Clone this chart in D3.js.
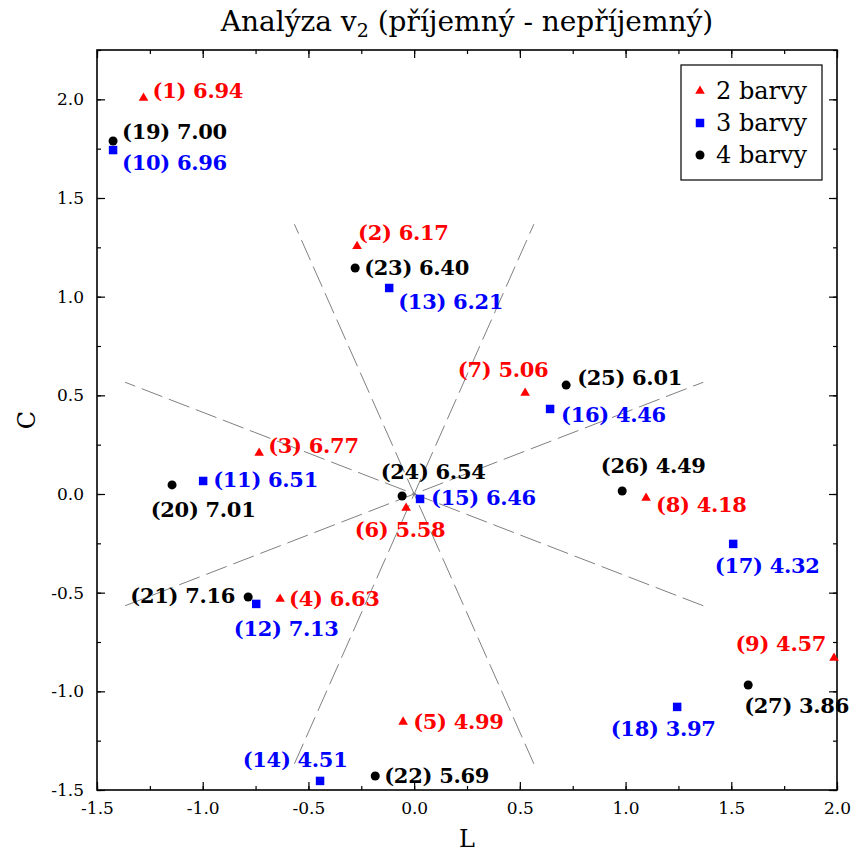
<!DOCTYPE html>
<html>
<head>
<meta charset="utf-8">
<script src="https://cdn.jsdelivr.net/npm/d3@7/dist/d3.min.js"></script>
<style>
  html, body { margin: 0; padding: 0; background: #fff; }
  svg { display: block; }
  .serif { font-family: "DejaVu Serif", serif; }
</style>
</head>
<body>
<svg id="chart" width="852" height="855"></svg>
<script>
// Series: (L, C) coordinates, item number and score
const seriesNames = ["2 barvy", "3 barvy", "4 barvy"];

const ids2 = [1, 2, 3, 4, 5, 6, 7, 8, 9];
const L2 = [-1.28, -0.27, -0.733, -0.634, -0.052, -0.038, 0.525, 1.097, 1.986];
const C2 = [2.007, 1.255, 0.208, -0.532, -1.155, -0.071, 0.512, -0.020, -0.831];
const score2 = ["6.94", "6.17", "6.77", "6.63", "4.99", "5.58", "5.06", "4.18", "4.57"];

const ids3 = [10, 11, 12, 13, 14, 15, 16, 17, 18];
const L3 = [-1.424, -0.998, -0.747, -0.118, -0.445, 0.028, 0.643, 1.509, 1.244];
const C3 = [1.743, 0.066, -0.557, 1.044, -1.454, -0.025, 0.431, -0.253, -1.079];
const score3 = ["6.96", "6.51", "7.13", "6.21", "4.51", "6.46", "4.46", "4.32", "3.97"];

const ids4 = [19, 20, 21, 22, 23, 24, 25, 26, 27];
const L4 = [-1.424, -1.145, -0.785, -0.184, -0.279, -0.057, 0.719, 0.984, 1.58];
const C4 = [1.789, 0.046, -0.522, -1.429, 1.145, -0.010, 0.552, 0.015, -0.968];
const score4 = ["7.00", "7.01", "7.16", "5.69", "6.40", "6.54", "6.01", "4.49", "3.86"];

// Guide lines through the origin: directions (degrees) and length
const guideAngles = [22.5, 67.5, 112.5, 157.5];
const guideRadius = 1.48;

// Axis ticks
const xTicks = [-1.5, -1.0, -0.5, 0.0, 0.5, 1.0, 1.5, 2.0];
const yTicks = [-1.5, -1.0, -0.5, 0.0, 0.5, 1.0, 1.5, 2.0];
const xMinor = d3.range(-1.5, 2.001, 0.25);
const yMinor = d3.range(-1.5, 2.251, 0.25);

// Label placement per item: [dx, dy, anchor] in pixels relative to the marker
const labelPlacement = {
  1: [9, -7, "start"], 2: [1, -14, "start"], 3: [9, -7, "start"], 4: [9, 0, "start"],
  5: [10, 0, "start"], 6: [-6, 21, "middle"], 7: [-22, -23, "middle"], 8: [10, 7, "start"],
  9: [-8, -14, "end"],
  10: [9, 12, "start"], 11: [10, -1, "start"], 12: [30, 25, "middle"], 13: [9, 14, "start"],
  14: [-25, -21, "middle"], 15: [11, -1, "start"], 16: [11, 6, "start"], 17: [34, 22, "middle"],
  18: [-14, 22, "middle"],
  19: [9, -9, "start"], 20: [31, 25, "middle"], 21: [-13, -2, "end"], 22: [9, 0, "start"],
  23: [9, -1, "start"], 24: [31, -24, "middle"], 25: [11, -8, "start"], 26: [31, -26, "middle"],
  27: [7, 20, "start"]
};

const series = [
  { name: seriesNames[0], ids: ids2, L: L2, C: C2, score: score2, color: "#ff0000", symbol: d3.symbolTriangle, size: 40 },
  { name: seriesNames[1], ids: ids3, L: L3, C: C3, score: score3, color: "#0000ff", symbol: d3.symbolSquare, size: 72 },
  { name: seriesNames[2], ids: ids4, L: L4, C: C4, score: score4, color: "#000000", symbol: d3.symbolCircle, size: 64 }
];

const svg = d3.select("#chart");
const margin = { left: 97, right: 15, top: 50, bottom: 65 };
const W = 852, H = 855;
const x = d3.scaleLinear().domain([-1.5, 2.0]).range([margin.left, W - margin.right]);
const y = d3.scaleLinear().domain([-1.5, 2.25]).range([H - margin.bottom, margin.top]);
const fmt = d => d.toFixed(1);

// Guide lines
const g = svg.append("g");
g.selectAll("line.guide").data(guideAngles).join("line")
  .attr("class", "guide")
  .attr("x1", a => x(-guideRadius * Math.cos(a * Math.PI / 180)))
  .attr("y1", a => y(-guideRadius * Math.sin(a * Math.PI / 180)))
  .attr("x2", a => x(guideRadius * Math.cos(a * Math.PI / 180)))
  .attr("y2", a => y(guideRadius * Math.sin(a * Math.PI / 180)))
  .attr("stroke", "#808080").attr("stroke-width", 1)
  .attr("stroke-dasharray", "22,7");

// Axes with inward ticks
function styleAxis(sel) {
  sel.select(".domain").remove();
  sel.selectAll(".tick line").attr("stroke", "#000").attr("stroke-width", 1.2);
  sel.selectAll(".tick text").attr("class", "serif").attr("font-size", 17).attr("fill", "#000");
}
const yB = y.range()[0], yT = y.range()[1], xL = x.range()[0], xR = x.range()[1];

svg.append("g").attr("transform", `translate(0,${yB})`)
  .call(d3.axisBottom(x).tickValues(xTicks).tickFormat(fmt).tickSizeInner(-8).tickSizeOuter(0).tickPadding(12))
  .call(styleAxis);
svg.append("g").attr("transform", `translate(0,${yB})`)
  .call(d3.axisBottom(x).tickValues(xMinor).tickFormat("").tickSizeInner(-4).tickSizeOuter(0))
  .call(styleAxis);
svg.append("g").attr("transform", `translate(0,${yT})`)
  .call(d3.axisTop(x).tickValues(xTicks).tickFormat("").tickSizeInner(-8).tickSizeOuter(0))
  .call(styleAxis);
svg.append("g").attr("transform", `translate(0,${yT})`)
  .call(d3.axisTop(x).tickValues(xMinor).tickFormat("").tickSizeInner(-4).tickSizeOuter(0))
  .call(styleAxis);
svg.append("g").attr("transform", `translate(${xL},0)`)
  .call(d3.axisLeft(y).tickValues(yTicks).tickFormat(fmt).tickSizeInner(-8).tickSizeOuter(0).tickPadding(13))
  .call(styleAxis);
svg.append("g").attr("transform", `translate(${xL},0)`)
  .call(d3.axisLeft(y).tickValues(yMinor).tickFormat("").tickSizeInner(-4).tickSizeOuter(0))
  .call(styleAxis);
svg.append("g").attr("transform", `translate(${xR},0)`)
  .call(d3.axisRight(y).tickValues(yTicks).tickFormat("").tickSizeInner(-8).tickSizeOuter(0))
  .call(styleAxis);
svg.append("g").attr("transform", `translate(${xR},0)`)
  .call(d3.axisRight(y).tickValues(yMinor).tickFormat("").tickSizeInner(-4).tickSizeOuter(0))
  .call(styleAxis);

// Plot frame
svg.append("rect")
  .attr("x", xL).attr("y", yT).attr("width", xR - xL).attr("height", yB - yT)
  .attr("fill", "none").attr("stroke", "#000").attr("stroke-width", 1.6);

// Markers and labels
series.forEach(s => {
  const pts = s.ids.map((id, i) => ({ id, L: s.L[i], C: s.C[i], score: s.score[i] }));
  const sym = d3.symbol().type(s.symbol).size(s.size);
  svg.append("g").selectAll("path").data(pts).join("path")
    .attr("d", sym)
    .attr("transform", d => `translate(${x(d.L)},${y(d.C)})`)
    .attr("fill", s.color);
  svg.append("g").selectAll("text").data(pts).join("text")
    .attr("class", "serif")
    .attr("x", d => x(d.L) + labelPlacement[d.id][0])
    .attr("y", d => y(d.C) + labelPlacement[d.id][1])
    .attr("text-anchor", d => labelPlacement[d.id][2])
    .attr("dominant-baseline", "central")
    .attr("font-size", 21).attr("font-weight", "bold")
    .attr("letter-spacing", -0.3)
    .attr("fill", s.color)
    .text(d => `(${d.id}) ${d.score}`)
    .each(function () {
      // keep labels inside the canvas
      const b = this.getBBox();
      const over = b.x + b.width - (W - 3);
      if (over > 0) d3.select(this).attr("x", +this.getAttribute("x") - over);
    });
});

// Legend
const lg = svg.append("g").attr("transform", "translate(681,65)");
lg.append("rect").attr("width", 141).attr("height", 115)
  .attr("fill", "#fff").attr("stroke", "#000").attr("stroke-width", 1.2);
series.forEach((s, i) => {
  const cy = 26 + i * 32;
  lg.append("path").attr("d", d3.symbol().type(s.symbol).size(s.size)())
    .attr("transform", `translate(19,${cy})`).attr("fill", s.color);
  lg.append("text").attr("class", "serif").attr("x", 35).attr("y", cy)
    .attr("dominant-baseline", "central").attr("font-size", 24).attr("fill", "#000")
    .text(s.name);
});

// Title and axis titles
const title = svg.append("text").attr("class", "serif")
  .attr("x", (xL + xR) / 2).attr("y", 31).attr("text-anchor", "middle")
  .attr("font-size", 28).attr("fill", "#000");
title.append("tspan").text("Analýza v");
title.append("tspan").attr("font-size", 19).attr("dy", 6).text("2");
title.append("tspan").attr("dy", -6).text(" (příjemný - nepříjemný)");

svg.append("text").attr("class", "serif")
  .attr("x", (xL + xR) / 2).attr("y", 847).attr("text-anchor", "middle")
  .attr("font-size", 24).attr("fill", "#000").text("L");
svg.append("text").attr("class", "serif")
  .attr("transform", `translate(35,${(yT + yB) / 2}) rotate(-90)`).attr("text-anchor", "middle")
  .attr("font-size", 24).attr("fill", "#000").text("C");
</script>
</body>
</html>
